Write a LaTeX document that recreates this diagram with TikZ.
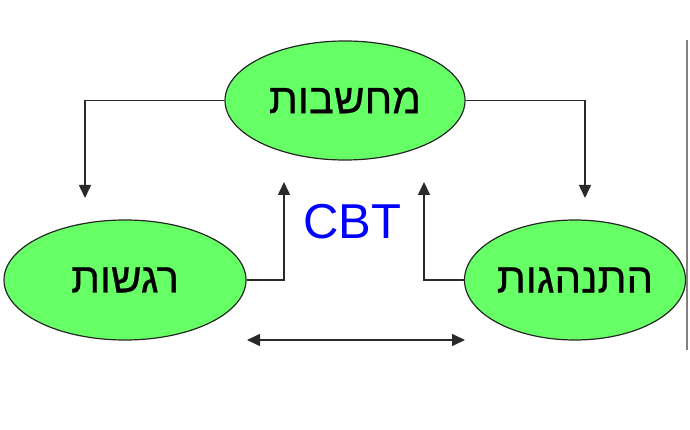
\documentclass[tikz,border=0pt]{standalone}
\usepackage{fontspec}
\setmainfont{Liberation Sans}
\newfontfamily\hebfont[Script=Hebrew,FakeBold=0.6]{Liberation Sans}
\TeXXeTstate=1
\usetikzlibrary{shapes.geometric,arrows.meta}
\definecolor{bubble}{HTML}{66FF66}
\definecolor{linegray}{HTML}{2A2A2A}
\tikzset{
  bubblenode/.style={ellipse,draw=black!85,line width=1.2pt,fill=bubble,inner sep=0pt,
    font=\hebfont\fontsize{42}{48}\selectfont},
  conn/.style={draw=linegray,line width=1.6pt,-{Triangle[length=13pt,width=12pt]}},
  dconn/.style={draw=linegray,line width=1.6pt,{Triangle[length=13pt,width=12pt]}-{Triangle[length=13pt,width=12pt]}},
  edge line/.style={draw=gray,line width=2pt}
}
\begin{document}
\begin{tikzpicture}[x=1pt,y=-1pt]
\useasboundingbox (0,0) rectangle (690,430);
\node[bubblenode,minimum width=240pt,minimum height=119pt] (thoughts) at (345,100.5) {\beginR מחשבות\endR};
\node[bubblenode,minimum width=242pt,minimum height=120pt] (feelings) at (125,280) {\beginR רגשות\endR};
\node[bubblenode,minimum width=220pt,minimum height=120pt] (behavior) at (575,280) {\beginR התנהגות\endR};
\node[text=blue,font=\fontsize{49}{56}\selectfont,inner sep=0pt] (cbt) at (352,222) {CBT};
\coordinate (fL) at (85,198);
\coordinate (fR) at (585,198);
\coordinate (uL) at (284,182);
\coordinate (uR) at (424,182);
\coordinate (dA) at (247,340);
\coordinate (dB) at (465,340);
\coordinate (vT) at (687,40);
\coordinate (vB) at (687,350);
\draw[conn] (thoughts.west) -| (fL);
\draw[conn] (thoughts.east) -| (fR);
\draw[conn] (feelings.east) -| (uL);
\draw[conn] (behavior.west) -| (uR);
\draw[dconn] (dA) -- (dB);
\draw[edge line] (vT) -- (vB);
\end{tikzpicture}
\end{document}
